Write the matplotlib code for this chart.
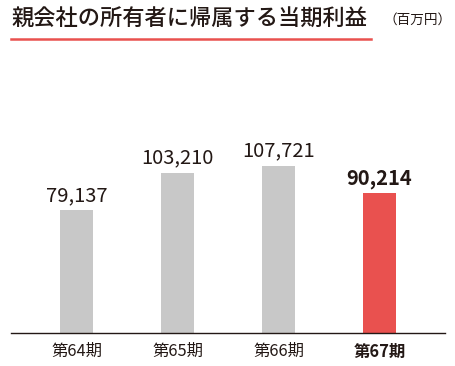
import matplotlib.pyplot as plt
import numpy as np

plt.rcParams['font.family'] = ['Noto Sans CJK JP', 'DejaVu Sans']

categories = ["第64期", "第65期", "第66期", "第67期"]
values = [79137, 103210, 107721, 90214]
colors = ["#c8c8c8", "#c8c8c8", "#c8c8c8", "#e9514f"]
title = "親会社の所有者に帰属する当期利益"
unit = "（百万円）"

text_color = "#231815"

fig = plt.figure(figsize=(4.56, 3.66), dpi=100)
ax = fig.add_axes([0, 0.0902, 1, 0.8005])

x = np.arange(len(values))
ax.bar(x, values, width=0.327, color=colors)
ax.set_xlim(-0.758, 3.757)
ax.set_ylim(0, 188500)

for i, v in enumerate(values):
    last = i == len(values) - 1
    ax.annotate("{:,}".format(v), (i, v), xytext=(0, 3),
                textcoords="offset points", ha="center", va="bottom",
                fontsize=14.5, color=text_color,
                fontweight="bold" if last else "normal")

ax.set_xticks(x)
ax.set_xticklabels(categories, fontsize=11.8, color=text_color)
ax.get_xticklabels()[-1].set_fontweight("bold")
ax.tick_params(axis="x", length=0, pad=7)
ax.set_yticks([])
for s in ["top", "left", "right"]:
    ax.spines[s].set_visible(False)
ax.spines["bottom"].set_color(text_color)
ax.spines["bottom"].set_linewidth(1)
ax.spines["bottom"].set_bounds(-0.648, 3.649)

fig.text(11 / 456, 1 - 19 / 366, title, fontsize=16, fontweight="medium",
         color=text_color, ha="left", va="center")
fig.text(384 / 456, 1 - 20 / 366, unit, fontsize=9.8, color=text_color,
         ha="left", va="center")
fig.add_artist(plt.Line2D([11 / 456, 371 / 456], [1 - 39 / 366, 1 - 39 / 366],
                          color="#e9514f", linewidth=1.8))

plt.savefig("out.png", dpi=100)
